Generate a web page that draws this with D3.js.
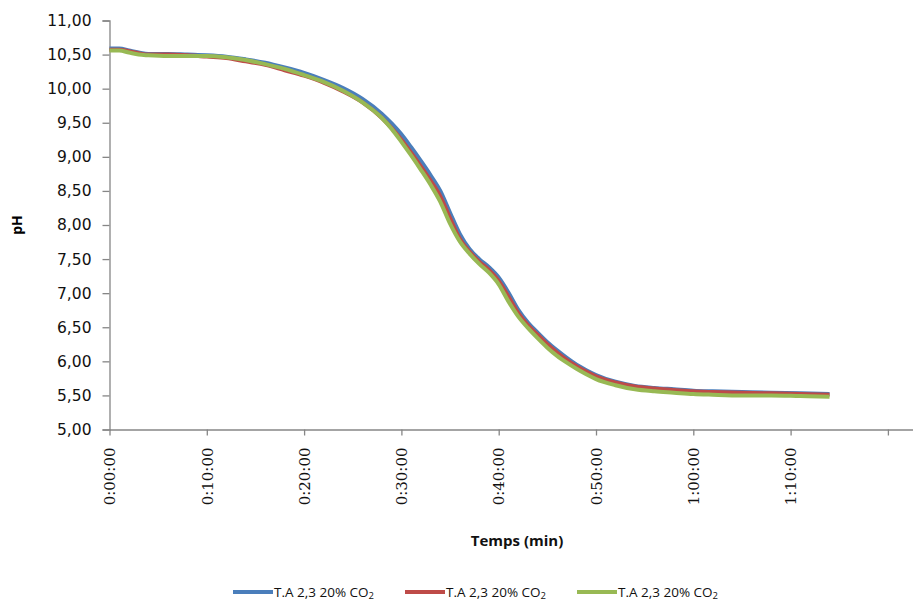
<!DOCTYPE html>
<html><head><meta charset="utf-8">
<script src="https://cdn.jsdelivr.net/npm/d3@7"></script>
<style>body{margin:0;background:#fff}svg{display:block}</style>
</head><body><svg id="c" width="913" height="603"></svg>
<script>
const times = [0,1,2,3,4,6,8,10,12,14,16,18,20,22,24,26,28,29,30,31,32,33,34,35,36,37,38,39,40,41,42,43,44,45,46,47,48,49,50,52,54,56,58,60,62,65,68,71,74];
const blue = [10.59,10.59,10.56,10.53,10.51,10.51,10.50,10.49,10.47,10.43,10.38,10.31,10.23,10.13,10.01,9.85,9.63,9.49,9.33,9.14,8.94,8.73,8.50,8.18,7.87,7.65,7.50,7.38,7.23,7.01,6.76,6.57,6.42,6.28,6.16,6.05,5.95,5.87,5.80,5.70,5.64,5.61,5.59,5.57,5.56,5.55,5.54,5.53,5.52];
const red = [10.57,10.57,10.55,10.52,10.50,10.50,10.49,10.47,10.45,10.40,10.35,10.27,10.19,10.09,9.96,9.80,9.57,9.42,9.25,9.06,8.86,8.65,8.42,8.10,7.80,7.61,7.46,7.34,7.18,6.95,6.71,6.53,6.39,6.25,6.13,6.02,5.93,5.85,5.78,5.69,5.63,5.60,5.58,5.56,5.55,5.54,5.53,5.52,5.51];
const green = [10.56,10.56,10.53,10.50,10.49,10.48,10.48,10.48,10.46,10.42,10.36,10.29,10.20,10.10,9.97,9.80,9.57,9.41,9.22,9.02,8.81,8.59,8.34,8.02,7.76,7.58,7.43,7.30,7.13,6.88,6.66,6.49,6.34,6.20,6.08,5.98,5.89,5.81,5.74,5.65,5.59,5.56,5.54,5.52,5.51,5.50,5.50,5.49,5.48];
const seriesNames = ["T.A 2,3 20% CO","T.A 2,3 20% CO","T.A 2,3 20% CO"];
const seriesColors = ["#4a7ebb","#be4b48","#98b954"];
const xTickValues = [0,10,20,30,40,50,60,70,80];
const xTickLabels = ["0:00:00","0:10:00","0:20:00","0:30:00","0:40:00","0:50:00","1:00:00","1:10:00",""];
const yTickValues = [5,5.5,6,6.5,7,7.5,8,8.5,9,9.5,10,10.5,11];

const svg = d3.select("#c");
const x = d3.scaleLinear().domain([0,83]).range([109.5, 109.5+8.3*97.3]);
const y = d3.scaleLinear().domain([5,11]).range([429.5,20.5]);

// y axis
const ya = svg.append("g").attr("transform","translate(109.5,0)")
  .call(d3.axisLeft(y).tickValues(yTickValues).tickSize(7).tickPadding(11)
    .tickFormat(d=>d3.format(".2f")(d).replace(".",",")));
ya.select(".domain").attr("stroke","#868686").attr("stroke-width",1.3);
ya.selectAll(".tick line").attr("stroke","#868686").attr("stroke-width",1.3);
ya.selectAll("text").attr("font-family","DejaVu Sans").attr("font-size","15.5px").attr("fill","#111");

// x axis
const xa = svg.append("g").attr("transform","translate(0,429.5)")
  .call(d3.axisBottom(x).tickValues(xTickValues).tickSize(6).tickSizeOuter(0)
    .tickFormat((d,i)=>xTickLabels[i]));
xa.select(".domain").attr("stroke","#868686").attr("stroke-width",1.3);
xa.selectAll(".tick line").attr("stroke","#868686").attr("stroke-width",1.3);
xa.selectAll("text").attr("font-family","DejaVu Serif").attr("font-size","15px").attr("fill","#111")
  .attr("transform","rotate(-90)").attr("text-anchor","end").attr("dy","0.35em").attr("x",-18).attr("y",0);

const line = d3.line().x((d,i)=>x(times[i])).y(d=>y(d)).curve(d3.curveMonotoneX);
[blue,red,green].forEach((s,k)=>{
  svg.append("path").datum(s).attr("d",line).attr("fill","none")
    .attr("stroke",seriesColors[k]).attr("stroke-width",4).attr("stroke-linejoin","round");
});

// axis titles
svg.append("text").attr("transform","translate(22,225) rotate(-90)").attr("text-anchor","middle")
  .attr("font-family","Open Sans").attr("font-weight","bold").attr("font-size","14px").text("pH");
svg.append("text").attr("x",517).attr("y",546).attr("text-anchor","middle")
  .attr("font-family","Open Sans").attr("font-weight","bold").attr("font-size","15px").attr("fill","#111").text("Temps (min)");

// legend
const legX = [233,405,577];
seriesNames.forEach((n,k)=>{
  const g = svg.append("g").attr("transform",`translate(${legX[k]},592)`);
  g.append("line").attr("x1",0).attr("x2",40).attr("stroke",seriesColors[k]).attr("stroke-width",4);
  const t = g.append("text").attr("x",41).attr("y",5).attr("font-family","Open Sans").attr("font-size","13.5px").attr("fill","#111");
  t.append("tspan").text(n);
  t.append("tspan").attr("font-size","9.5px").attr("dy",2).text("2");
});
</script></body></html>
